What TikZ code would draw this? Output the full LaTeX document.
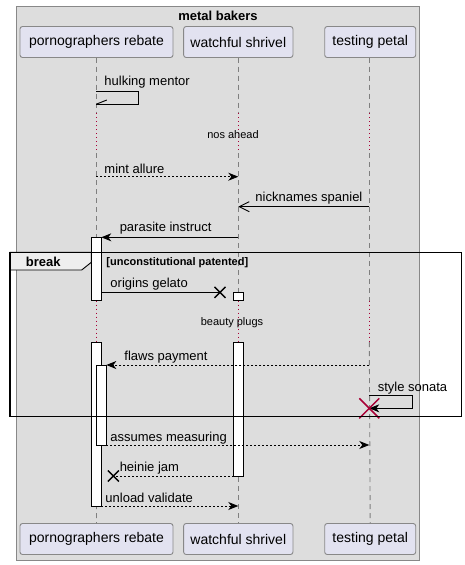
\documentclass[tikz,border=0pt]{standalone}
\usepackage{fontspec}
\setmainfont{Liberation Sans}
\usetikzlibrary{arrows.meta}
\definecolor{seqGroup}{HTML}{DDDDDD}
\definecolor{seqPart}{HTML}{E2E2F0}
\definecolor{seqBorder}{HTML}{888888}
\definecolor{seqLine}{HTML}{7F7F7F}
\definecolor{seqTab}{HTML}{EEEEEE}
\definecolor{seqDelay}{HTML}{A80036}
\definecolor{seqText}{HTML}{000000}
\newcommand{\seqfont}[1]{\fontsize{#1}{#1}\selectfont}

\begin{document}
\begin{tikzpicture}[
    x=1pt, y=-1pt,
    line width=0.9pt,
    every node/.style={color=seqText, inner sep=0pt},
    partbox/.style={draw=seqBorder, fill=seqPart, rounded corners=2.5pt,
        minimum height=31pt, font=\seqfont{14}},
    msg/.style={anchor=west, font=\seqfont{13}, yshift=-1pt},
    delaytext/.style={font=\seqfont{11}},
    lifeline/.style={seqLine, dash pattern=on 5pt off 4pt},
    delayline/.style={seqDelay, dash pattern=on 1pt off 3pt},
    actbar/.style={draw=black, fill=white},
    call/.style={black, -{Stealth[length=10pt,width=8pt,inset=3pt]}},
    reply/.style={call, dash pattern=on 2pt off 2pt},
    async/.style={black, -{Straight Barb[length=10pt,width=10pt]}},
    lost/.style={black, line width=1.4pt},
]

\useasboundingbox (0,0) rectangle (465,565);

% ----------------------------------------------------------------------
% Group box (whole diagram)
% ----------------------------------------------------------------------
\draw[seqBorder, fill=seqGroup] (16.5,6) rectangle (419.5,560);
\node[font=\bfseries\seqfont{13}] (title) at (218,15.5) {metal bakers};

% ----------------------------------------------------------------------
% Participants, top and bottom
%   rebate : x = 96.3   shrivel : x = 238.3   petal : x = 369.3
% ----------------------------------------------------------------------
\foreach \p/\x/\w/\lbl in {
    rebate/96.5/153/{pornographers rebate},
    shrivel/238.3/109.3/{watchful shrivel},
    petal/370.2/91/{testing petal}
} {
    \node[partbox, minimum width=\w pt] (\p) at (\x,42) {\lbl};
    \node[partbox, minimum width=\w pt] (\p B) at (\x,539) {\lbl};
}

% delay bands (dotted part of the lifelines)
\coordinate (delayA)    at (0,113);
\coordinate (delayAend) at (0,153);
\coordinate (delayB)    at (0,300.5);
\coordinate (delayBend) at (0,342);

\foreach \p/\x in {rebate/96.3, shrivel/238.3, petal/369.3} {
    \coordinate (\p L) at (\x,57.5);
    \draw[lifeline]  (\p L) -- (\p L |- delayA);
    \draw[delayline] (\p L |- delayA) -- (\p L |- delayAend);
    \draw[lifeline]  (\p L |- delayAend) -- (\p L |- delayB);
    \draw[delayline] (\p L |- delayB) -- (\p L |- delayBend);
    \draw[lifeline]  (\p L |- delayBend) -- (\p B.north);
}

\node[delaytext] (delayAtxt) at (233,134.5) {nos ahead};
\node[delaytext] (delayBtxt) at (232,322.5) {beauty plugs};

% ----------------------------------------------------------------------
% Activation bars
% ----------------------------------------------------------------------
\draw[actbar] (91.3,237.3) rectangle (101.3,300.5);
\draw[actbar] (91.3,342) rectangle (101.3,506);
\draw[actbar] (96.7,365) rectangle (106.3,445);
\draw[actbar] (233.5,292.3) rectangle (243.5,300.5);
\draw[actbar] (233.5,342) rectangle (243.5,476);

% ----------------------------------------------------------------------
% Messages
% ----------------------------------------------------------------------
% hulking mentor (self)
\coordinate (m1a) at (96.3,91);
\coordinate (m1b) at (96.3,104);
\draw[black] (m1a) -- ++(41.7,0) |- (m1b);
\draw[black] (m1b) ++(0.5,0) -- ++(10,-4);
\node[msg] (m1) at (104,81.5) {hulking mentor};

% mint allure
\coordinate (m2a) at (96.3,176.7);
\coordinate (m2b) at (238.3,176.7);
\draw[reply] (m2a) -- (m2b);
\node[msg] (m2) at (104,167.5) {mint allure};

% nicknames spaniel
\coordinate (m3a) at (369.3,206.7);
\coordinate (m3b) at (238.3,206.7);
\draw[async] (m3a) -- (m3b);
\node[msg] (m3) at (255,197.5) {nicknames spaniel};

% parasite instruct
\coordinate (m4a) at (238.3,237.3);
\coordinate (m4b) at (101.3,237.3);
\draw[call] (m4a) -- (m4b);
\node[msg] (m4) at (119.3,227.5) {parasite instruct};

% origins gelato (lost)
\coordinate (m5a) at (101.3,292.3);
\coordinate (m5b) at (220,292.3);
\draw[black] (m5a) -- (m5b);
\draw[lost] (m5b) +(-5.5,-5.5) -- +(5.5,5.5) (m5b) +(-5.5,5.5) -- +(5.5,-5.5);
\node[msg] (m5) at (110,283.3) {origins gelato};

% flaws payment
\coordinate (m6a) at (369.3,365);
\coordinate (m6b) at (106.3,365);
\draw[reply] (m6a) -- (m6b);
\node[msg] (m6) at (124,355.7) {flaws payment};

% style sonata (self, then destroyed)
\coordinate (m7a) at (369.3,395);
\coordinate (m7b) at (369.3,408.3);
\draw[call] (m7a) -- ++(43.4,0) |- (m7b);
\node[msg] (m7) at (377.3,386.7) {style sonata};
\draw[seqDelay, line width=1.5pt]
    (m7b) +(-10,-10) -- +(10,10) (m7b) +(-10,10) -- +(10,-10);

% assumes measuring
\coordinate (m8a) at (106.3,445);
\coordinate (m8b) at (369.3,445);
\draw[reply] (m8a) -- (m8b);
\node[msg] (m8) at (110,436.7) {assumes measuring};

% heinie jam (lost)
\coordinate (m9a) at (233.5,476);
\coordinate (m9b) at (113.3,476);
\draw[black, dash pattern=on 2pt off 2pt] (m9a) -- (m9b);
\draw[lost] (m9b) +(-5.5,-5.5) -- +(5.5,5.5) (m9b) +(-5.5,5.5) -- +(5.5,-5.5);
\node[msg] (m9) at (119.3,466.7) {heinie jam};

% unload validate
\coordinate (m10a) at (101.3,506);
\coordinate (m10b) at (238.3,506);
\draw[reply] (m10a) -- (m10b);
\node[msg] (m10) at (105,497.3) {unload validate};

% ----------------------------------------------------------------------
% break fragment
% ----------------------------------------------------------------------
\draw[black, fill=seqTab] (10,252.3) -- (91.3,252.3) -- (91.3,262.3)
    -- (81.7,270) -- (10,270) -- cycle;
\draw[black, line width=1.5pt] (10,252.3) rectangle (461.5,416.7);
\node[font=\bfseries\seqfont{13}] (brk) at (43.3,262) {break};
\node[font=\bfseries\seqfont{11}, anchor=west] (brkcond) at (106,262.5)
    {[unconstitutional patented]};

\end{tikzpicture}
\end{document}
